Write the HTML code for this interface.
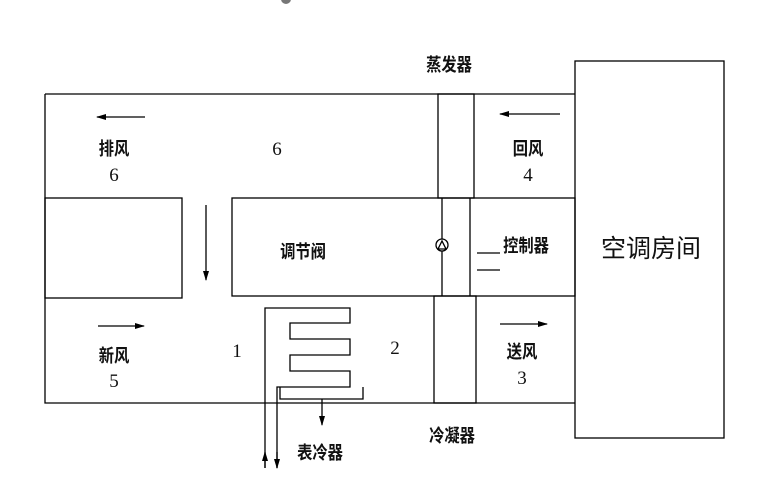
<!DOCTYPE html><html><head><style>body{margin:0;background:#fff}svg{display:block}text{font-family:"Liberation Sans","Noto Sans CJK SC",sans-serif;fill:#111;font-weight:bold}.n{font-family:"Liberation Serif",serif;font-weight:normal}</style></head><body>
<svg width="776" height="490" viewBox="0 0 776 490" xmlns="http://www.w3.org/2000/svg">
<defs><marker id="a" markerWidth="10" markerHeight="8" refX="9" refY="4" orient="auto" markerUnits="userSpaceOnUse"><path d="M0,1 L10,4 L0,7z" fill="#000"/></marker></defs>
<circle cx="286" cy="-1" r="5" fill="#777"/>
<g fill="none" stroke="#000" stroke-width="1.3">
<rect x="575" y="61" width="149" height="377"/>
<path d="M45,94 H575 M45,94 V403 H575"/>
<rect x="45" y="198" width="137" height="100"/>
<rect x="232" y="198" width="343" height="98"/>
<rect x="438" y="94" width="36" height="104"/>
<path d="M442,198 V296 M470,198 V296"/>
<rect x="434" y="296" width="42" height="107"/>
<circle cx="442" cy="245" r="6" fill="#fff"/>
<path d="M438,249 L442,241 L446,249z"/>
<path d="M477,253 H500 M477,270 H500"/>
<path d="M265,468 V308 H350 V323 H290 V339 H350 V355 H290 V371 H350 V387 H277 V468"/>
<path d="M280,387 V399 H363 V387"/>
<path d="M322,399 V425" marker-end="url(#a)"/>
<path d="M265,468 V452" marker-end="url(#a)"/>
<path d="M277,452 V468" marker-end="url(#a)"/>
<path d="M145,117 H97" marker-end="url(#a)"/>
<path d="M560,114 H500" marker-end="url(#a)"/>
<path d="M98,326 H144" marker-end="url(#a)"/>
<path d="M500,324 H547" marker-end="url(#a)"/>
<path d="M206,205 V280" marker-end="url(#a)"/>
</g>
<g font-size="18" text-anchor="middle">
<text transform="translate(449,71) scale(0.85,1)">蒸发器</text>
<text transform="translate(114,155) scale(0.85,1)">排风</text><text class="n" x="114" y="181" font-size="19">6</text>
<text class="n" x="277" y="155" font-size="19">6</text>
<text transform="translate(528,155) scale(0.85,1)">回风</text><text class="n" x="528" y="181" font-size="19">4</text>
<text transform="translate(303,258) scale(0.85,1)">调节阀</text>
<text transform="translate(526,252) scale(0.85,1)">控制器</text>
<text x="651" y="257" font-size="25" style="font-weight:normal">空调房间</text>
<text transform="translate(114,362) scale(0.85,1)">新风</text><text class="n" x="114" y="387" font-size="19">5</text>
<text class="n" x="237" y="357" font-size="19">1</text>
<text class="n" x="395" y="354" font-size="19">2</text>
<text transform="translate(522,358) scale(0.85,1)">送风</text><text class="n" x="522" y="384" font-size="19">3</text>
<text transform="translate(452,442) scale(0.85,1)">冷凝器</text>
<text transform="translate(320,459) scale(0.85,1)">表冷器</text>
</g>
</svg></body></html>
